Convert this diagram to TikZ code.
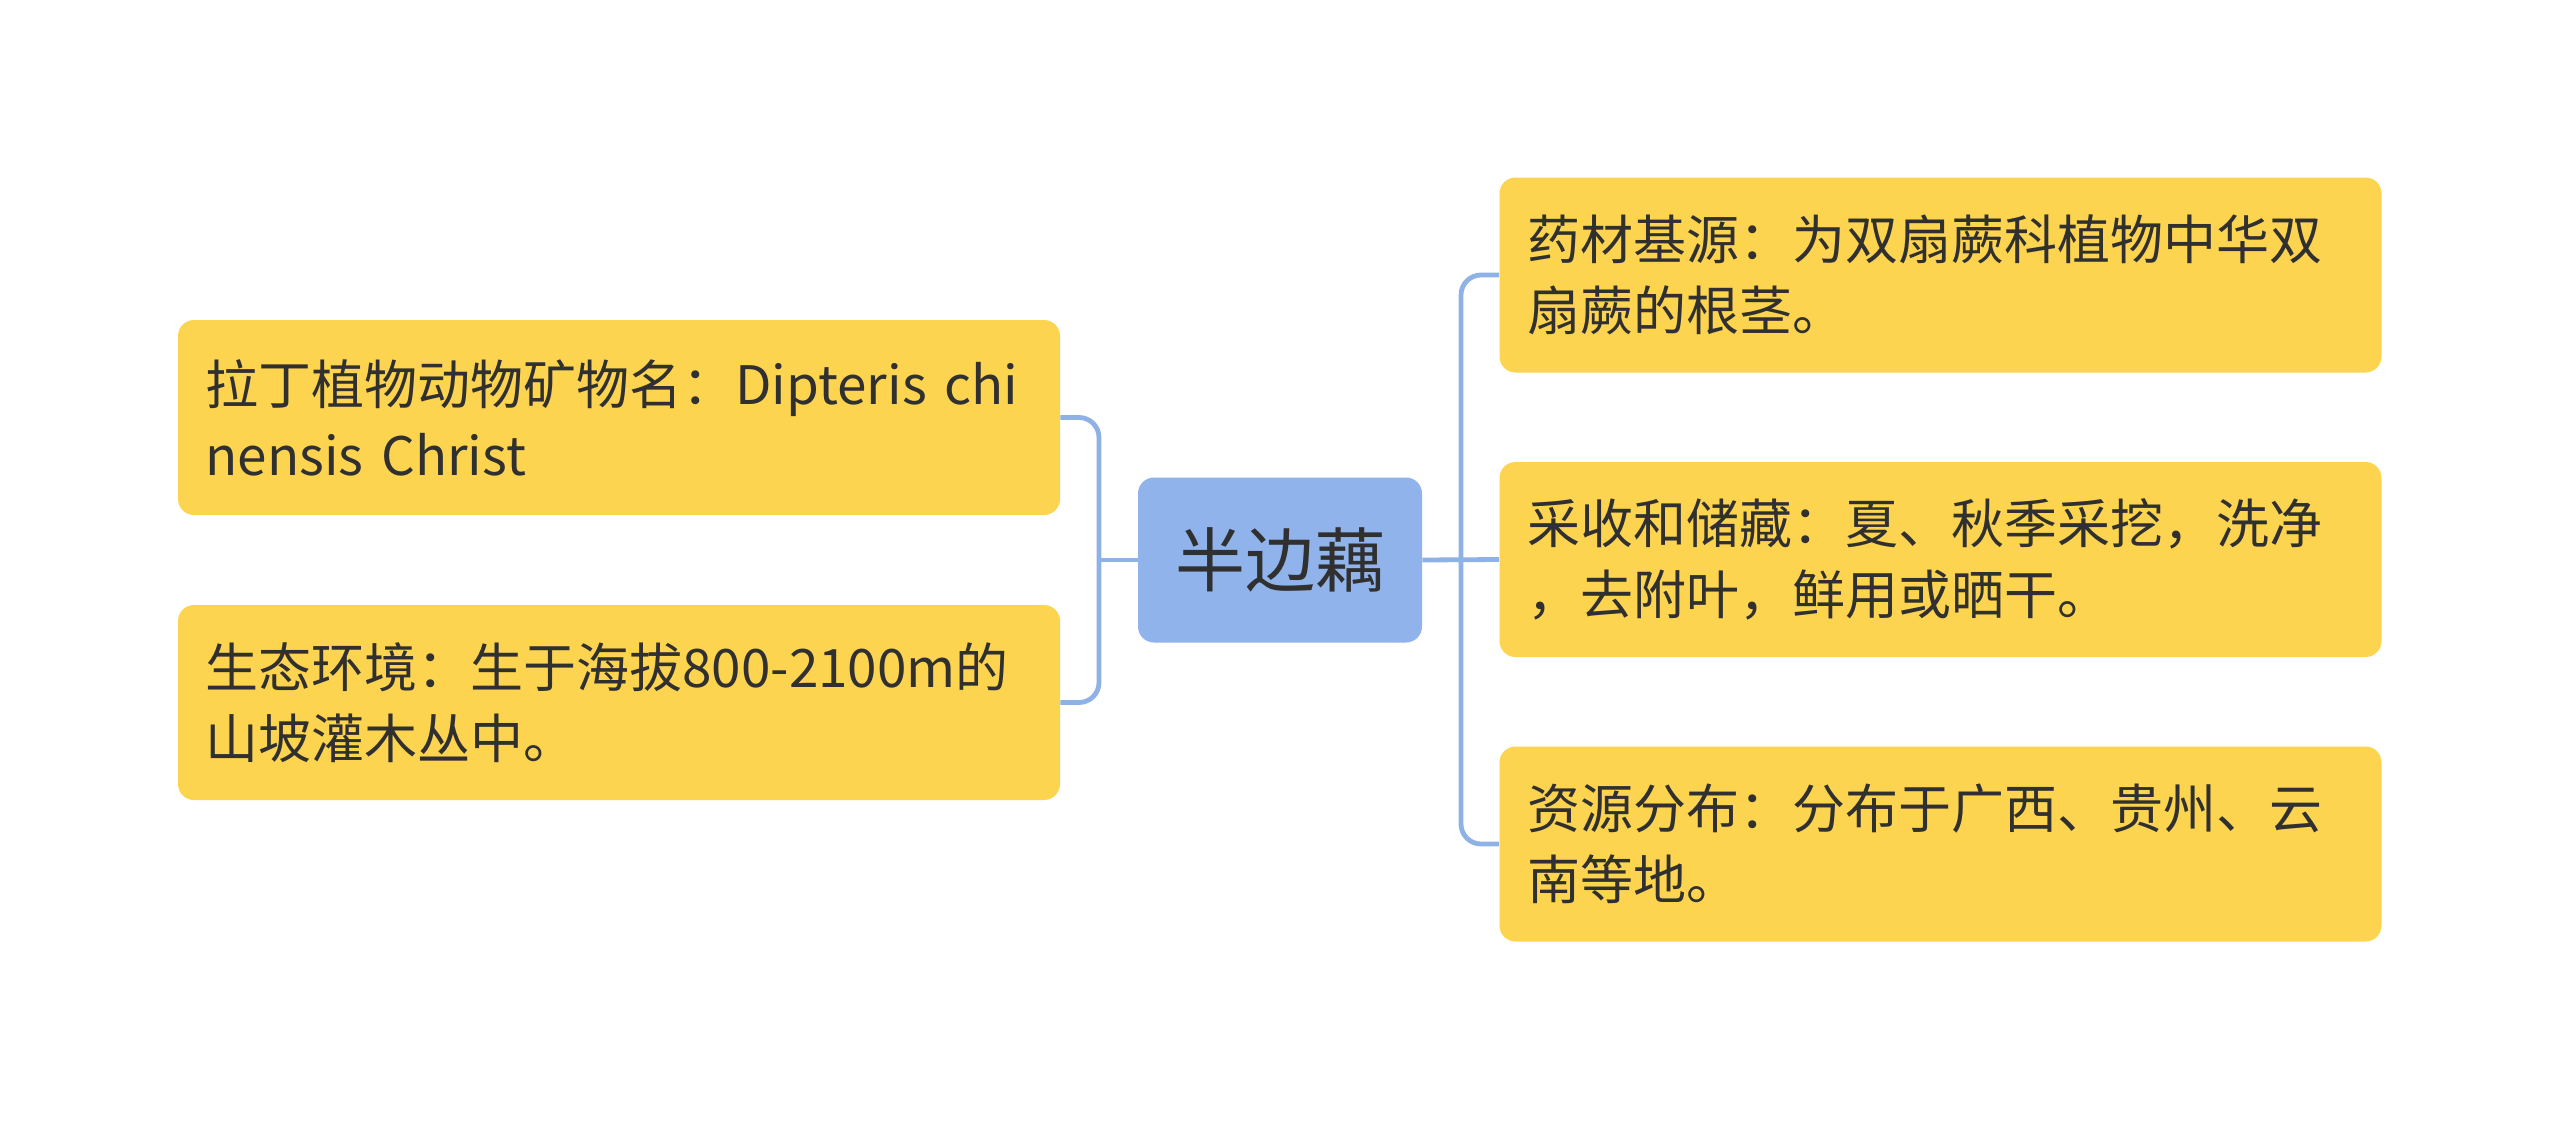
\documentclass[tikz,border=0pt]{standalone}
\usepackage{fontspec}
\setmainfont{Noto Sans CJK SC}
\definecolor{leafyellow}{HTML}{FDD44F}
\definecolor{rootblue}{HTML}{8FB3EA}
\definecolor{linkblue}{HTML}{8EB2E6}
\definecolor{inktext}{HTML}{303030}
\begin{document}
\begin{tikzpicture}[x=0.5pt,y=-0.5pt,
  leaf/.style={rectangle, rounded corners=8pt, fill=leafyellow, draw=none,
    text width=413.5pt, inner xsep=13.75pt, inner ysep=0pt,
    minimum height=97.5pt, align=left, text=inktext,
    font=\fontsize{26.5pt}{35.5pt}\selectfont},
  root/.style={rectangle, rounded corners=8pt, fill=rootblue, draw=none,
    minimum width=142pt, minimum height=82.5pt, inner sep=0pt, text=inktext,
    font=\fontsize{35pt}{42pt}\selectfont},
  conn/.style={draw=linkblue, line width=2.4pt, rounded corners=10pt}]
\useasboundingbox (0,0) rectangle (2560,1120);
\fill[white] (0,0) rectangle (2560,1120);

\node[root] (c) at (1280,560) {半边藕};

\node[leaf] (l1) at (619,417.5) {拉丁植物动物矿物名：Dipteris chi\\nensis Christ};
\node[leaf] (l2) at (619,702.5) {生态环境：生于海拔800-2100m的\\山坡灌木丛中。};

\node[leaf] (r1) at (1940.5,275) {药材基源：为双扇蕨科植物中华双\\扇蕨的根茎。};
\node[leaf] (r2) at (1940.5,559.5) {采收和储藏：夏、秋季采挖，洗净\\，去附叶，鲜用或晒干。};
\node[leaf] (r3) at (1940.5,844) {资源分布：分布于广西、贵州、云\\南等地。};

\coordinate (lb) at (1099,560);
\coordinate (rb) at (1461,560);

\draw[conn] (l1.east) -| (lb) |- (l2.east);
\draw[conn] (c.west) -- (lb);
\draw[conn] (r1.west) -| (rb) |- (r3.west);
\draw[conn] (c.east) -- (r2.west);
\end{tikzpicture}
\end{document}
